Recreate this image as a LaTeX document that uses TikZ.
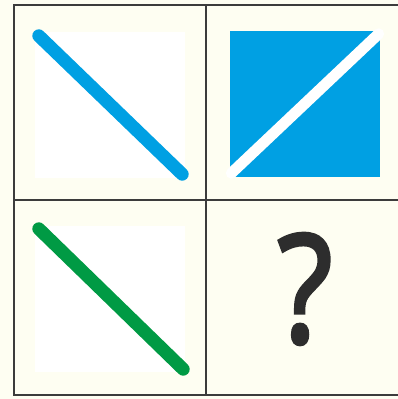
\documentclass[tikz,border=0pt]{standalone}
\usepackage{fontspec}
\setmainfont{Open Sans}
\newfontfamily\askfont[FakeBold=2.6]{Open Sans}
\usepackage{tikz}
\usetikzlibrary{calc}
\definecolor{quiz-bg}{RGB}{254, 254, 242}
\definecolor{quiz-frame}{RGB}{60, 60, 60}
\definecolor{quiz-blue}{RGB}{0, 160, 227}
\definecolor{quiz-green}{RGB}{0, 154, 68}
\definecolor{quiz-ink}{RGB}{45, 45, 45}

\begin{document}
\begin{tikzpicture}[
  x=1pt, y=-1pt,
  frame/.style={draw=quiz-frame,line width=2.2pt},
  panel/.style={rectangle,inner sep=0pt,minimum width=150pt,minimum height=146pt},
  stroke/.style={line width=13pt,line cap=round}
]
  \fill[quiz-bg] (0,0) rectangle (398,399);
  \useasboundingbox (0,0) rectangle (398,399);

  % grid
  \draw[frame] (400,5) -- (14,5) -- (14,395) -- (400,395);
  \draw[frame] (206,5) -- (206,395);
  \draw[frame] (14,200) -- (400,200);

  % panels
  \node[panel, fill=white]      (topleft)  at (110,105) {};
  \node[panel, fill=quiz-blue]  (topright) at (304.5,104) {};
  \node[panel, fill=white]      (botleft)  at (110,299) {};

  \draw[stroke, quiz-blue]  ($(topleft.north west)+(4,4)$)   -- ($(topleft.south east)+(-3,-4)$);
  \draw[stroke, white, line width=11pt]
                            ($(topright.south west)+(2,-4)$) -- ($(topright.north east)+(-1,3)$);
  \draw[stroke, quiz-green] ($(botleft.north west)+(4,3)$)   -- ($(botleft.south east)+(-2,-3)$);

  \node[text=quiz-ink, font=\fontsize{150}{150}\askfont, inner sep=0pt,
        xscale=0.85] (ask) at (305,289) {?};
\end{tikzpicture}
\end{document}
